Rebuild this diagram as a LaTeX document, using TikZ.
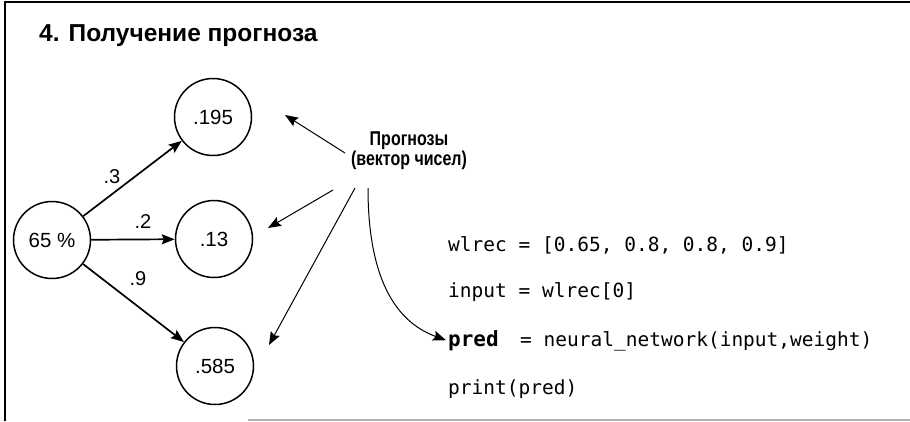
\documentclass[tikz,border=0pt]{standalone}
\usepackage{fontspec}
\setmainfont{Liberation Sans}
\setmonofont{DejaVu Sans Mono}
\usetikzlibrary{arrows.meta}

\newcommand{\narrow}[1]{\scalebox{0.8}[1]{#1}}

\begin{document}
\begin{tikzpicture}[
    x=1pt, y=-1pt,
    >={Stealth[length=13pt, width=10pt, inset=2pt]},
    neuron/.style={draw, circle, line width=1.5pt, minimum size=77pt, inner sep=0pt, font=\fontsize{20.5}{20.5}\selectfont},
    weight/.style={inner sep=1pt, font=\fontsize{20}{20}\selectfont},
    note/.style={align=center, inner sep=0pt, font=\bfseries\fontsize{20}{20}\selectfont},
    code/.style={anchor=base west, inner sep=0pt, font=\ttfamily\fontsize{19.5}{19.5}\selectfont}
]
    \useasboundingbox (0,0) rectangle (910,421);

    % Frame
    \draw[line width=1.6pt] (5,421) -- (5,2) -- (910,2);
    \draw[gray!60, line width=1.2pt] (248,420) -- (910,420);

    % Title
    \node[anchor=base west, inner sep=0pt, font=\bfseries\fontsize{24.5}{24.5}\selectfont] (title) at (39,41) {4. Получение прогноза};

    % Input node
    \node[neuron] (inp) at (52,240) {65 \%};

    % Output nodes
    \node[neuron] (out1) at (213,117) {.195};
    \node[neuron] (out2) at (214,239) {.13};
    \node[neuron] (out3) at (215,366) {.585};

    % Weights
    \draw[->, line width=1.7pt] (inp) -- (out1);
    \draw[->, line width=1.7pt] (inp) -- (out2);
    \draw[->, line width=1.7pt] (inp) -- (out3);
    \node[weight] (w1) at (112,177) {.3};
    \node[weight] (w2) at (143,222) {.2};
    \node[weight] (w3) at (138,279) {.9};

    % Label
    \node[note] (lbl) at (409,151) {\narrow{Прогнозы}\\\narrow{(вектор чисел)}};
    \coordinate (s1) at (345,153);
    \coordinate (s2) at (333,190);
    \coordinate (s3) at (355,188);
    \coordinate (s4) at (368,188);
    \coordinate (t1) at (285,115);
    \coordinate (t2) at (268,228);
    \coordinate (t3) at (269,345);

    % Code
    \node[code] (c1) at (448,251) {wlrec = [0.65, 0.8, 0.8, 0.9]};
    \node[code] (c2) at (448,297) {input = wlrec[0]};
    \node[code, font=\ttfamily\bfseries\fontsize{21}{21}\selectfont] (pred) at (448,346) {pred};
    \node[code] (c3) at (520,346) {= neural\_network(input,weight)};
    \node[code] (c4) at (448,394) {print(pred)};

    % Label links
    \draw[->, line width=1pt] (s1) -- (t1);
    \draw[->, line width=1pt] (s2) -- (t2);
    \draw[->, line width=1pt] (s3) -- (t3);
    \draw[->, line width=1pt] (s4) to[out=-90, in=160] ([xshift=-2pt]pred.west);

\end{tikzpicture}
\end{document}
